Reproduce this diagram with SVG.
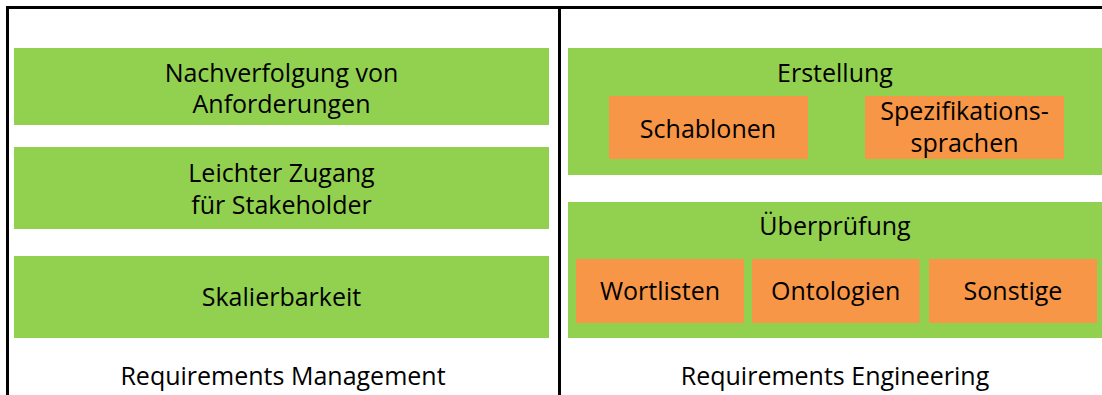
<svg xmlns="http://www.w3.org/2000/svg" width="1102" height="395" viewBox="0 0 1102 395">
  <style>
    .g { fill: #92D050; }
    .o { fill: #F79646; }
    .t { font-family: "Open Sans", "Noto Sans", "Liberation Sans", sans-serif; font-size: 25px; fill: #000; text-anchor: middle; }
    .frame { stroke: #000; stroke-width: 3; fill: none; }
  </style>
  <rect width="1102" height="395" fill="#fff"/>
  <g id="frame">
    <line class="frame" x1="6" y1="7.5" x2="1102" y2="7.5"/>
    <line class="frame" x1="7.5" y1="6" x2="7.5" y2="395"/>
    <line class="frame" x1="559.5" y1="6" x2="559.5" y2="395"/>
  </g>
  <g id="connectors"></g>
  <g id="nachverfolgung">
    <rect class="g" x="14" y="48" width="535" height="77"/>
    <text class="t" x="281.5" y="82">Nachverfolgung von</text>
    <text class="t" x="281.5" y="113">Anforderungen</text>
  </g>
  <g id="zugang">
    <rect class="g" x="14" y="147" width="535" height="82"/>
    <text class="t" x="281.5" y="182">Leichter Zugang</text>
    <text class="t" x="281.5" y="214">für Stakeholder</text>
  </g>
  <g id="skalierbarkeit">
    <rect class="g" x="14" y="256" width="535" height="82"/>
    <text class="t" x="281.5" y="306">Skalierbarkeit</text>
  </g>
  <g id="rm-label">
    <text class="t" x="283" y="385">Requirements Management</text>
  </g>
  <g id="erstellung">
    <rect class="g" x="568" y="48" width="534" height="127"/>
    <text class="t" x="835" y="82">Erstellung</text>
  </g>
  <g id="schablonen">
    <rect class="o" x="609" y="96" width="199" height="63"/>
    <text class="t" x="708" y="138">Schablonen</text>
  </g>
  <g id="spezifikationssprachen">
    <rect class="o" x="865" y="96" width="199" height="63"/>
    <text class="t" x="964.5" y="120">Spezifikations-</text>
    <text class="t" x="964.5" y="152">sprachen</text>
  </g>
  <g id="ueberpruefung">
    <rect class="g" x="568" y="202" width="534" height="136"/>
    <text class="t" x="835" y="235">Überprüfung</text>
  </g>
  <g id="wortlisten">
    <rect class="o" x="576" y="259" width="168" height="64"/>
    <text class="t" x="660" y="300">Wortlisten</text>
  </g>
  <g id="ontologien">
    <rect class="o" x="752" y="259" width="167.5" height="64"/>
    <text class="t" x="835.7" y="300">Ontologien</text>
  </g>
  <g id="sonstige">
    <rect class="o" x="929" y="259" width="168" height="64"/>
    <text class="t" x="1013" y="300">Sonstige</text>
  </g>
  <g id="re-label">
    <text class="t" x="835" y="385">Requirements Engineering</text>
  </g>
</svg>
